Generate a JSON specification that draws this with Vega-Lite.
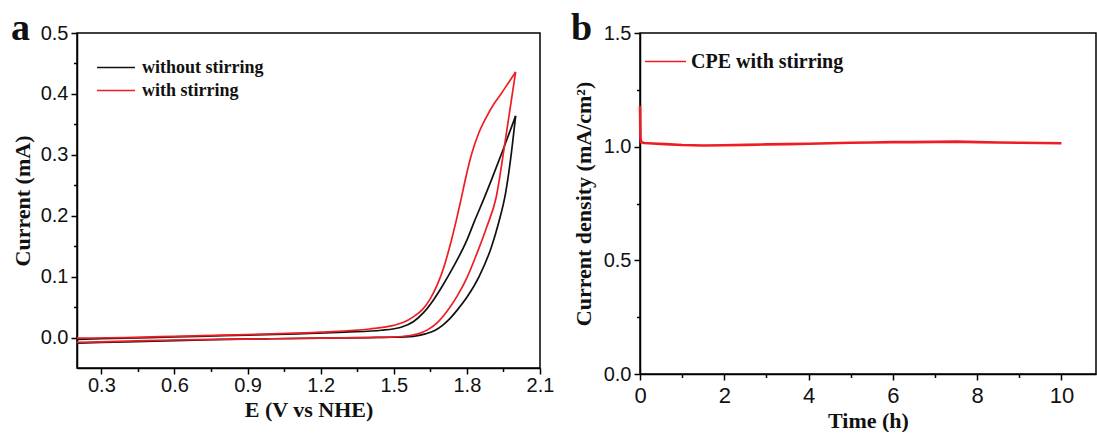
{
  "$schema": "https://vega.github.io/schema/vega-lite/v6.json",
  "background": "white",
  "autosize": {"type": "pad"},
  "padding": {"left": 10, "top": 9, "right": 0, "bottom": 0},
  "spacing": 100,
  "bounds": "flush",
  "resolve": {"scale": {"color": "independent"}, "legend": {"color": "independent"}},
  "config": {
    "view": {"stroke": "black", "strokeWidth": 1.5},
    "axis": {
      "domainColor": "black", "domainWidth": 1.5,
      "tickColor": "black", "tickWidth": 1.5,
      "grid": false,
      "labelFont": "Liberation Sans", "labelColor": "#111",
      "titleFont": "Liberation Serif", "titleFontWeight": "bold", "titleColor": "#111", "titleFontSize": 22,
      "labelOverlap": false, "labelFlush": false, "labelPadding": 3
    },
    "legend": {
      "orient": "none", "padding": 0, "symbolType": "stroke", "title": null,
      "labelFont": "Liberation Serif", "labelFontWeight": "bold", "labelColor": "#111"
    },
    "title": {"font": "Liberation Serif", "fontWeight": "bold", "color": "#111", "fontSize": 38, "anchor": "start", "frame": "group", "baseline": "alphabetic", "offset": 0}
  },
  "hconcat": [
    {
      "width": 463,
      "height": 335,
      "title": {"text": "a", "dx": -66, "dy": 29},
      "data": {"values": [
        {"s": "without stirring", "b": "bl", "o": 1, "E": 0.2, "I": -0.009},
        {"s": "without stirring", "b": "bl", "o": 2, "E": 0.4, "I": -0.007},
        {"s": "without stirring", "b": "bl", "o": 3, "E": 0.6, "I": -0.005},
        {"s": "without stirring", "b": "bl", "o": 4, "E": 0.8, "I": -0.003},
        {"s": "without stirring", "b": "bl", "o": 5, "E": 1.0, "I": -0.002},
        {"s": "without stirring", "b": "bl", "o": 6, "E": 1.2, "I": -0.001},
        {"s": "without stirring", "b": "bl", "o": 7, "E": 1.4, "I": 0.0},
        {"s": "without stirring", "b": "bl", "o": 8, "E": 1.5, "I": 0.0005},
        {"s": "without stirring", "b": "bl", "o": 9, "E": 1.58, "I": 0.002},
        {"s": "without stirring", "b": "bl", "o": 10, "E": 1.63, "I": 0.006},
        {"s": "without stirring", "b": "bl", "o": 11, "E": 1.67, "I": 0.012},
        {"s": "without stirring", "b": "bl", "o": 12, "E": 1.7, "I": 0.02},
        {"s": "without stirring", "b": "bl", "o": 13, "E": 1.73, "I": 0.031},
        {"s": "without stirring", "b": "bl", "o": 14, "E": 1.76, "I": 0.045},
        {"s": "without stirring", "b": "bl", "o": 15, "E": 1.8, "I": 0.066},
        {"s": "without stirring", "b": "bl", "o": 16, "E": 1.85, "I": 0.1},
        {"s": "without stirring", "b": "bl", "o": 17, "E": 1.9, "I": 0.148},
        {"s": "without stirring", "b": "bl", "o": 18, "E": 1.93, "I": 0.188},
        {"s": "without stirring", "b": "bl", "o": 19, "E": 1.96, "I": 0.24},
        {"s": "without stirring", "b": "bl", "o": 20, "E": 1.98, "I": 0.295},
        {"s": "without stirring", "b": "bl", "o": 21, "E": 2.0, "I": 0.364},
        {"s": "without stirring", "b": "bu", "o": 1, "E": 2.0, "I": 0.364},
        {"s": "without stirring", "b": "bu", "o": 2, "E": 1.95, "I": 0.31},
        {"s": "without stirring", "b": "bu", "o": 3, "E": 1.9, "I": 0.258},
        {"s": "without stirring", "b": "bu", "o": 4, "E": 1.87, "I": 0.228},
        {"s": "without stirring", "b": "bu", "o": 5, "E": 1.83, "I": 0.19},
        {"s": "without stirring", "b": "bu", "o": 6, "E": 1.8, "I": 0.16},
        {"s": "without stirring", "b": "bu", "o": 7, "E": 1.75, "I": 0.12},
        {"s": "without stirring", "b": "bu", "o": 8, "E": 1.7, "I": 0.085},
        {"s": "without stirring", "b": "bu", "o": 9, "E": 1.665, "I": 0.063},
        {"s": "without stirring", "b": "bu", "o": 10, "E": 1.62, "I": 0.04},
        {"s": "without stirring", "b": "bu", "o": 11, "E": 1.58, "I": 0.026},
        {"s": "without stirring", "b": "bu", "o": 12, "E": 1.53, "I": 0.017},
        {"s": "without stirring", "b": "bu", "o": 13, "E": 1.45, "I": 0.012},
        {"s": "without stirring", "b": "bu", "o": 14, "E": 1.3, "I": 0.009},
        {"s": "without stirring", "b": "bu", "o": 15, "E": 1.1, "I": 0.006},
        {"s": "without stirring", "b": "bu", "o": 16, "E": 0.9, "I": 0.004},
        {"s": "without stirring", "b": "bu", "o": 17, "E": 0.7, "I": 0.002},
        {"s": "without stirring", "b": "bu", "o": 18, "E": 0.5, "I": 0.0},
        {"s": "without stirring", "b": "bu", "o": 19, "E": 0.3, "I": -0.002},
        {"s": "without stirring", "b": "bu", "o": 20, "E": 0.2, "I": -0.003},
        {"s": "with stirring", "b": "rl", "o": 1, "E": 0.2, "I": -0.008},
        {"s": "with stirring", "b": "rl", "o": 2, "E": 0.4, "I": -0.006},
        {"s": "with stirring", "b": "rl", "o": 3, "E": 0.6, "I": -0.004},
        {"s": "with stirring", "b": "rl", "o": 4, "E": 0.8, "I": -0.003},
        {"s": "with stirring", "b": "rl", "o": 5, "E": 1.0, "I": -0.002},
        {"s": "with stirring", "b": "rl", "o": 6, "E": 1.2, "I": -0.001},
        {"s": "with stirring", "b": "rl", "o": 7, "E": 1.4, "I": 0.0},
        {"s": "with stirring", "b": "rl", "o": 8, "E": 1.5, "I": 0.001},
        {"s": "with stirring", "b": "rl", "o": 9, "E": 1.56, "I": 0.003},
        {"s": "with stirring", "b": "rl", "o": 10, "E": 1.6, "I": 0.006},
        {"s": "with stirring", "b": "rl", "o": 11, "E": 1.64, "I": 0.013},
        {"s": "with stirring", "b": "rl", "o": 12, "E": 1.68, "I": 0.025},
        {"s": "with stirring", "b": "rl", "o": 13, "E": 1.72, "I": 0.044},
        {"s": "with stirring", "b": "rl", "o": 14, "E": 1.76, "I": 0.068},
        {"s": "with stirring", "b": "rl", "o": 15, "E": 1.8, "I": 0.098},
        {"s": "with stirring", "b": "rl", "o": 16, "E": 1.84, "I": 0.137},
        {"s": "with stirring", "b": "rl", "o": 17, "E": 1.88, "I": 0.18},
        {"s": "with stirring", "b": "rl", "o": 18, "E": 1.92, "I": 0.23},
        {"s": "with stirring", "b": "rl", "o": 19, "E": 1.96, "I": 0.33},
        {"s": "with stirring", "b": "rl", "o": 20, "E": 2.0, "I": 0.436},
        {"s": "with stirring", "b": "ru", "o": 1, "E": 2.0, "I": 0.436},
        {"s": "with stirring", "b": "ru", "o": 2, "E": 1.97, "I": 0.418},
        {"s": "with stirring", "b": "ru", "o": 3, "E": 1.94, "I": 0.4},
        {"s": "with stirring", "b": "ru", "o": 4, "E": 1.91, "I": 0.383},
        {"s": "with stirring", "b": "ru", "o": 5, "E": 1.88, "I": 0.362},
        {"s": "with stirring", "b": "ru", "o": 6, "E": 1.85, "I": 0.337},
        {"s": "with stirring", "b": "ru", "o": 7, "E": 1.82, "I": 0.302},
        {"s": "with stirring", "b": "ru", "o": 8, "E": 1.795, "I": 0.262},
        {"s": "with stirring", "b": "ru", "o": 9, "E": 1.775, "I": 0.225},
        {"s": "with stirring", "b": "ru", "o": 10, "E": 1.755, "I": 0.19},
        {"s": "with stirring", "b": "ru", "o": 11, "E": 1.73, "I": 0.15},
        {"s": "with stirring", "b": "ru", "o": 12, "E": 1.705, "I": 0.115},
        {"s": "with stirring", "b": "ru", "o": 13, "E": 1.68, "I": 0.088},
        {"s": "with stirring", "b": "ru", "o": 14, "E": 1.65, "I": 0.064},
        {"s": "with stirring", "b": "ru", "o": 15, "E": 1.62, "I": 0.047},
        {"s": "with stirring", "b": "ru", "o": 16, "E": 1.58, "I": 0.034},
        {"s": "with stirring", "b": "ru", "o": 17, "E": 1.54, "I": 0.025},
        {"s": "with stirring", "b": "ru", "o": 18, "E": 1.5, "I": 0.02},
        {"s": "with stirring", "b": "ru", "o": 19, "E": 1.4, "I": 0.014},
        {"s": "with stirring", "b": "ru", "o": 20, "E": 1.2, "I": 0.009},
        {"s": "with stirring", "b": "ru", "o": 21, "E": 1.0, "I": 0.006},
        {"s": "with stirring", "b": "ru", "o": 22, "E": 0.8, "I": 0.004},
        {"s": "with stirring", "b": "ru", "o": 23, "E": 0.6, "I": 0.002},
        {"s": "with stirring", "b": "ru", "o": 24, "E": 0.4, "I": 0.0},
        {"s": "with stirring", "b": "ru", "o": 25, "E": 0.2, "I": -0.001}
      ]},
      "mark": {"type": "line", "strokeWidth": 1.7, "interpolate": "monotone"},
      "encoding": {
        "x": {
          "field": "E", "type": "quantitative",
          "scale": {"domain": [0.2, 2.1], "nice": false, "zero": false},
          "axis": {
            "title": "E (V vs NHE)",
            "values": [0.3, 0.45, 0.6, 0.75, 0.9, 1.05, 1.2, 1.35, 1.5, 1.65, 1.8, 1.95, 2.1],
            "labelExpr": "abs(datum.value*10/3 - round(datum.value*10/3)) < 0.01 ? format(datum.value, '.1f') : ''",
            "tickSize": {"condition": {"test": "abs(datum.value*10/3 - round(datum.value*10/3)) < 0.01", "value": 6}, "value": 3.5},
            "labelFontSize": 20, "labelPadding": 1, "titlePadding": 4
          }
        },
        "y": {
          "field": "I", "type": "quantitative",
          "scale": {"domain": [-0.05, 0.5], "nice": false, "zero": false},
          "axis": {
            "title": "Current (mA)",
            "values": [0, 0.05, 0.1, 0.15, 0.2, 0.25, 0.3, 0.35, 0.4, 0.45, 0.5],
            "labelExpr": "abs(datum.value*10 - round(datum.value*10)) < 0.01 ? format(datum.value, '.1f') : ''",
            "tickSize": {"condition": {"test": "abs(datum.value*10 - round(datum.value*10)) < 0.01", "value": 6}, "value": 3.5},
            "labelFontSize": 20, "titlePadding": 6
          }
        },
        "color": {
          "field": "s", "type": "nominal",
          "scale": {"domain": ["without stirring", "with stirring"], "range": ["#111111", "#ee1d23"]},
          "legend": {"legendX": 19, "legendY": 23, "symbolSize": 1444, "symbolStrokeWidth": 1.7, "labelFontSize": 18, "labelOffset": 6, "clipHeight": 23, "rowPadding": 0}
        },
        "detail": {"field": "b", "type": "nominal"},
        "order": {"field": "o", "type": "quantitative"}
      }
    },
    {
      "width": 456,
      "height": 341,
      "title": {"text": "b", "dx": -69, "dy": 29},
      "data": {"values": [
        {"s": "CPE with stirring", "t": 0.0, "j": 1.18},
        {"s": "CPE with stirring", "t": 0.01, "j": 1.04},
        {"s": "CPE with stirring", "t": 0.03, "j": 1.02},
        {"s": "CPE with stirring", "t": 0.1, "j": 1.016},
        {"s": "CPE with stirring", "t": 0.3, "j": 1.014},
        {"s": "CPE with stirring", "t": 0.6, "j": 1.011},
        {"s": "CPE with stirring", "t": 1.0, "j": 1.007},
        {"s": "CPE with stirring", "t": 1.5, "j": 1.005},
        {"s": "CPE with stirring", "t": 2.0, "j": 1.006},
        {"s": "CPE with stirring", "t": 2.5, "j": 1.008},
        {"s": "CPE with stirring", "t": 3.0, "j": 1.01},
        {"s": "CPE with stirring", "t": 3.5, "j": 1.011},
        {"s": "CPE with stirring", "t": 4.0, "j": 1.013},
        {"s": "CPE with stirring", "t": 4.5, "j": 1.015},
        {"s": "CPE with stirring", "t": 5.0, "j": 1.017},
        {"s": "CPE with stirring", "t": 5.5, "j": 1.018},
        {"s": "CPE with stirring", "t": 6.0, "j": 1.02},
        {"s": "CPE with stirring", "t": 6.5, "j": 1.02},
        {"s": "CPE with stirring", "t": 7.0, "j": 1.021},
        {"s": "CPE with stirring", "t": 7.5, "j": 1.022},
        {"s": "CPE with stirring", "t": 8.0, "j": 1.02},
        {"s": "CPE with stirring", "t": 8.5, "j": 1.018},
        {"s": "CPE with stirring", "t": 9.0, "j": 1.017},
        {"s": "CPE with stirring", "t": 9.5, "j": 1.016},
        {"s": "CPE with stirring", "t": 10.0, "j": 1.015}
      ]},
      "mark": {"type": "line", "strokeWidth": 2.6},
      "encoding": {
        "x": {
          "field": "t", "type": "quantitative",
          "scale": {"domain": [0, 10.82], "nice": false, "zero": false},
          "axis": {
            "title": "Time (h)",
            "values": [0, 1, 2, 3, 4, 5, 6, 7, 8, 9, 10],
            "labelExpr": "datum.value % 2 == 0 ? format(datum.value, 'd') : ''",
            "tickSize": {"condition": {"test": "datum.value % 2 == 0", "value": 6}, "value": 3.5},
            "labelFontSize": 22, "labelPadding": 5, "titlePadding": 4
          }
        },
        "y": {
          "field": "j", "type": "quantitative",
          "scale": {"domain": [0, 1.5], "nice": false, "zero": false},
          "axis": {
            "title": "Current density (mA/cm²)",
            "values": [0, 0.25, 0.5, 0.75, 1.0, 1.25, 1.5],
            "labelExpr": "abs(datum.value*2 - round(datum.value*2)) < 0.01 ? format(datum.value, '.1f') : ''",
            "tickSize": {"condition": {"test": "abs(datum.value*2 - round(datum.value*2)) < 0.01", "value": 6}, "value": 3.5},
            "labelFontSize": 20, "titlePadding": 8
          }
        },
        "color": {
          "field": "s", "type": "nominal",
          "scale": {"domain": ["CPE with stirring"], "range": ["#ee1d23"]},
          "legend": {"legendX": 4, "legendY": 7, "symbolSize": 1681, "symbolStrokeWidth": 1.7, "labelFontSize": 20, "labelOffset": 4}
        }
      }
    }
  ]
}
